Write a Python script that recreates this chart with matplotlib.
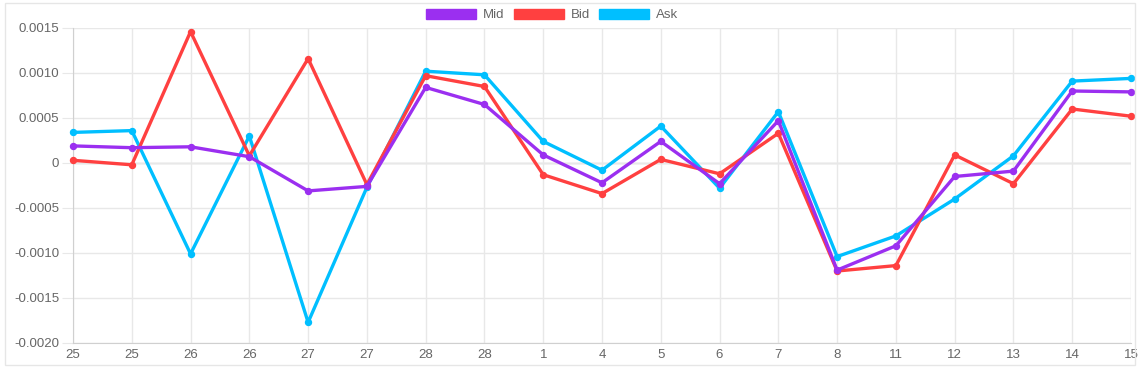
import matplotlib.pyplot as plt
from matplotlib.patches import Patch, Rectangle

plt.rcParams['font.family'] = ['Liberation Sans', 'DejaVu Sans']

# x axis labels (days)
days = ["25", "25", "26", "26", "27", "27", "28", "28", "1", "4",
        "5", "6", "7", "8", "11", "12", "13", "14", "15"]

mid = [0.00019, 0.00017, 0.00018, 0.00007, -0.00031, -0.00026, 0.00084, 0.00065,
       0.00009, -0.00022, 0.00024, -0.00023, 0.00047, -0.00119, -0.00092,
       -0.00015, -0.00009, 0.00080, 0.00079]
bid = [0.00003, -0.00002, 0.00146, 0.00008, 0.00116, -0.00024, 0.00097, 0.00085,
       -0.00013, -0.00034, 0.00004, -0.00012, 0.00033, -0.00120, -0.00114,
       0.00009, -0.00023, 0.00060, 0.00052]
ask = [0.00034, 0.00036, -0.00101, 0.00030, -0.00177, -0.00027, 0.00102, 0.00098,
       0.00024, -0.00008, 0.00041, -0.00028, 0.00057, -0.00104, -0.00081,
       -0.00040, 0.00008, 0.00091, 0.00094]

series_names = ["Mid", "Bid", "Ask"]
colors = {"Mid": "#9b2ff0", "Bid": "#ff4040", "Ask": "#00bfff"}

y_ticks = [0.0015, 0.0010, 0.0005, 0, -0.0005, -0.0010, -0.0015, -0.0020]
y_labels = ["0.0015", "0.0010", "0.0005", "0", "-0.0005", "-0.0010", "-0.0015", "-0.0020"]

fig = plt.figure(figsize=(11.39, 3.72), dpi=100)
ax = fig.add_axes([73 / 1139, 1 - 343 / 372, (1131 - 73) / 1139, (343 - 28) / 372])

# light frame around the whole chart
fig.patches.append(Rectangle((5 / 1139, 1 - 365 / 372), 1130 / 1139, 362 / 372,
                             transform=fig.transFigure, fill=False,
                             edgecolor="#e6e6e6", linewidth=1))

x = list(range(len(days)))
data = {"Mid": mid, "Bid": bid, "Ask": ask}
zorders = {"Mid": 5, "Bid": 4, "Ask": 3}
for name in series_names:
    ax.plot(x, data[name], color=colors[name], linewidth=2.4, marker="o",
            markersize=4.3, zorder=zorders[name], clip_on=False)

ax.set_xlim(0, len(days) - 1)
ax.set_ylim(-0.0020, 0.0015)
ax.set_xticks(x)
ax.set_xticklabels(days)
ax.set_yticks(y_ticks)
ax.set_yticklabels(y_labels)

ax.grid(True, color="#e8e8e8", linewidth=1)
ax.axhline(0, color="#c8c8c8", linewidth=1, zorder=1)
for side in ["top", "right"]:
    ax.spines[side].set_visible(False)
for side in ["left", "bottom"]:
    ax.spines[side].set_color("#d0d0d0")
ax.tick_params(axis="both", colors="#e8e8e8", labelcolor="#666666",
               labelsize=9.5, length=8)
ax.tick_params(axis="y", pad=2)
ax.tick_params(axis="x", pad=4, length=0)

handles = [Patch(facecolor=colors[n], edgecolor=colors[n], label=n) for n in series_names]
leg = fig.legend(handles=handles, loc="center", bbox_to_anchor=(0.4846, 1 - 15 / 372),
                 ncol=3, frameon=False, fontsize=9.5, handlelength=3.8,
                 handleheight=0.8, handletextpad=0.5, columnspacing=0.7)
for t in leg.get_texts():
    t.set_color("#666666")

fig.savefig("out.png", dpi=100)
